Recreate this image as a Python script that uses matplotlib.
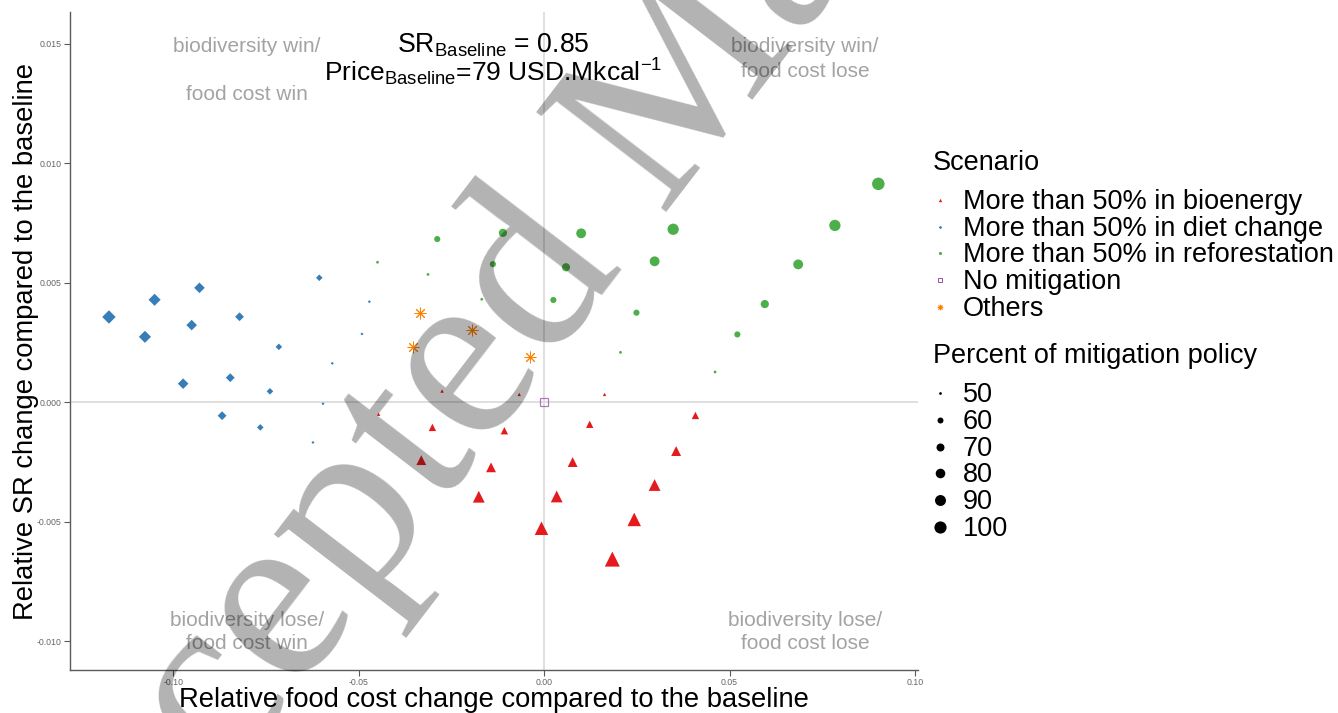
import matplotlib
matplotlib.use("Agg")
import matplotlib.pyplot as plt
import numpy as np

plt.rcParams['font.family'] = ['Liberation Sans', 'DejaVu Sans']
plt.rcParams['mathtext.fontset'] = 'custom'
plt.rcParams['mathtext.rm'] = 'Liberation Sans'
plt.rcParams['mathtext.it'] = 'Liberation Sans:italic'
plt.rcParams['mathtext.bf'] = 'Liberation Sans:bold'

# ---------------- data ----------------
bio_x = [-0.0446, -0.0275, -0.0067, 0.0163, -0.0301, -0.0107, 0.0123, 0.0408,
         -0.0331, -0.0143, 0.0077, 0.0356, -0.0176, 0.0034, 0.0298, -0.0007, 0.0243, 0.0184]
bio_y = [-0.00051, 0.00046, 0.00032, 0.00032, -0.00106, -0.00120, -0.00093, -0.00056,
         -0.00243, -0.00273, -0.00251, -0.00205, -0.00396, -0.00395, -0.00347, -0.00528, -0.00491, -0.00657]
bio_pct = [50, 50, 50, 50, 60, 60, 60, 60, 70, 70, 70, 70, 80, 80, 80, 90, 90, 100]

diet_x = [-0.1173, -0.1050, -0.1076, -0.0929, -0.0950, -0.0973, -0.0821, -0.0846, -0.0868,
          -0.0715, -0.0739, -0.0765, -0.0606, -0.0471, -0.0491, -0.0571, -0.0596, -0.0623]
diet_y = [0.00356, 0.00428, 0.00273, 0.00478, 0.00322, 0.00077, 0.00357, 0.00102, -0.00057,
          0.00231, 0.00045, -0.00106, 0.00520, 0.00420, 0.00285, 0.00162, -0.00007, -0.00169]
diet_pct = [100, 90, 90, 80, 80, 80, 70, 70, 70, 60, 60, 60, 60, 50, 50, 50, 50, 50]

refor_x = [0.0901, 0.0784, 0.0348, 0.0685, 0.0298, 0.0100, 0.0595, 0.0059, -0.0111, 0.0521,
           0.0249, 0.0025, -0.0138, -0.0288, 0.0461, 0.0206, -0.0168, -0.0313, -0.0449]
refor_y = [0.00913, 0.00739, 0.00723, 0.00576, 0.00589, 0.00706, 0.00410, 0.00564, 0.00708, 0.00283,
           0.00374, 0.00427, 0.00577, 0.00682, 0.00126, 0.00208, 0.00430, 0.00534, 0.00585]
refor_pct = [100, 90, 90, 80, 80, 80, 70, 70, 70, 60, 60, 60, 60, 60, 50, 50, 50, 50, 50]

others_x = [-0.0334, -0.0195, -0.0354, -0.0038]
others_y = [0.00374, 0.00301, 0.00231, 0.00190]

nomit_x = [0.0]
nomit_y = [0.0]

scenario_labels = ["More than 50% in bioenergy", "More than 50% in diet change",
                   "More than 50% in reforestation", "No mitigation", "Others"]
size_levels = [50, 60, 70, 80, 90, 100]

x_ticks = [-0.10, -0.05, 0.00, 0.05, 0.10]
x_ticklabels = ["-0.10", "-0.05", "0.00", "0.05", "0.10"]
y_ticks = [-0.010, -0.005, 0.000, 0.005, 0.010, 0.015]
y_ticklabels = ["-0.010", "-0.005", "0.000", "0.005", "0.010", "0.015"]

# ---------------- style ----------------
RED, BLUE, GREEN, PURPLE, ORANGE = "#E41A1C", "#377EB8", "#4DAF4A", "#984EA3", "#FF7F00"
GRAYTXT = "#A3A3A3"


def area(p, factor=1.0):
    p = np.asarray(p, dtype=float)
    d_px = np.sqrt(7.8 + 2.97 * (p - 50.0))
    return (d_px * 0.72) ** 2 * factor


W, H = 1338, 713
fig = plt.figure(figsize=(W / 100, H / 100), dpi=100)
L, R, T, B = 70, 918, 12, 670
ax = fig.add_axes([L / W, (H - B) / H, (R - L) / W, (B - T) / H])
ax.set_xlim(-0.1278, 0.1008)
ax.set_ylim(-0.01121, 0.01632)

ax.axhline(0, color="#DCDCDC", lw=1.3, zorder=0)
ax.axvline(0, color="#DCDCDC", lw=1.3, zorder=0)

ax.scatter(bio_x, bio_y, s=area(bio_pct, 1.44), marker="^", color=RED, linewidths=0, zorder=3)
ax.scatter(diet_x, diet_y, s=area(diet_pct, 0.58), marker="D", color=BLUE, linewidths=0, zorder=3)
ax.scatter(refor_x, refor_y, s=area(refor_pct, 1.0), marker="o", color=GREEN, linewidths=0, zorder=3)
ax.plot(others_x, others_y, linestyle="none", marker=(8, 2, 0), markersize=8.4,
        markeredgecolor=ORANGE, markeredgewidth=0.7, zorder=3)
ax.plot(nomit_x, nomit_y, linestyle="none", marker="s", markersize=6.4,
        markerfacecolor="none", markeredgecolor=PURPLE, markeredgewidth=0.9, alpha=0.75, zorder=3)

for s in ["top", "right"]:
    ax.spines[s].set_visible(False)
for s in ["left", "bottom"]:
    ax.spines[s].set_color("#5A5A5A")
    ax.spines[s].set_linewidth(1.0)

ax.set_xticks(x_ticks)
ax.set_xticklabels(x_ticklabels)
ax.set_yticks(y_ticks)
ax.set_yticklabels(y_ticklabels)
ax.tick_params(axis="both", length=4, width=0.8, color="#5A5A5A", labelsize=6.3,
               labelcolor="#666666", pad=2)

ax.set_xlabel("Relative food cost change compared to the baseline", fontsize=19.7)
ax.set_ylabel("Relative SR change compared to the baseline", fontsize=19.7)
ax.xaxis.set_label_coords(0.5, -0.026)
ax.yaxis.set_label_coords(-0.036, 0.5)

# quadrant annotations
q_kw = dict(fontsize=15, color=GRAYTXT, ha="center", va="center")
ax.text(-0.0801, 0.01486, "biodiversity win/", **q_kw)
ax.text(-0.0801, 0.01285, "food cost win", **q_kw)
ax.text(0.0703, 0.01486, "biodiversity win/", **q_kw)
ax.text(0.0703, 0.01385, "food cost lose", **q_kw)
ax.text(-0.0801, -0.00912, "biodiversity lose/", **q_kw)
ax.text(-0.0801, -0.01012, "food cost win", **q_kw)
ax.text(0.0703, -0.00912, "biodiversity lose/", **q_kw)
ax.text(0.0703, -0.01012, "food cost lose", **q_kw)

ax.text(-0.01375, 0.01462, r"SR$_{\mathrm{Baseline}}$ = 0.85", fontsize=19.2,
        ha="center", va="baseline")
ax.text(-0.01375, 0.01343, r"Price$_{\mathrm{Baseline}}$=79 USD.Mkcal$^{-1}$", fontsize=19.0,
        ha="center", va="baseline")

# ---------------- legend (overlay in pixel coordinates) ----------------
lax = fig.add_axes([0, 0, 1, 1])
lax.set_xlim(0, W)
lax.set_ylim(H, 0)
lax.axis("off")
lax.patch.set_alpha(0)

LFS = 19.5
lax.text(933, 163, "Scenario", fontsize=LFS, ha="left", va="center")
mx, tx = 940, 963
ys = [202, 228.7, 255.3, 282, 308.7]
lax.scatter([mx], [ys[0] - 2], s=6, marker="^", color=RED, linewidths=0)
lax.scatter([mx], [ys[1] - 2], s=3, marker="D", color=BLUE, linewidths=0)
lax.scatter([mx], [ys[2] - 2], s=5, marker="o", color=GREEN, linewidths=0)
lax.plot([mx], [ys[3] - 2], linestyle="none", marker="s", markersize=3.2, markerfacecolor="none",
         markeredgecolor=PURPLE, markeredgewidth=0.7)
lax.plot([mx], [ys[4] - 2], linestyle="none", marker=(8, 2, 0), markersize=3.8,
         markeredgecolor=ORANGE, markeredgewidth=0.7)
for lab, yy in zip(scenario_labels, ys):
    lax.text(tx, yy, lab, fontsize=LFS, ha="left", va="center")

lax.text(933, 356, "Percent of mitigation policy", fontsize=LFS, ha="left", va="center")
ys2 = [395.3, 422, 448.7, 475.3, 502, 528.7]
for lev, yy in zip(size_levels, ys2):
    lax.scatter([mx], [yy - 2], s=area([lev], 0.95), marker="o", color="black", linewidths=0)
    lax.text(tx, yy, str(lev), fontsize=LFS, ha="left", va="center")

# ---------------- watermark ----------------
fig.text(49.7 / W, 1 - 1015.9 / H, "Accepted Manuscript", fontsize=180,
         family=["Liberation Serif", "DejaVu Serif"], color="black", alpha=0.3,
         rotation=52.5, rotation_mode="anchor", ha="left", va="baseline", zorder=10)

fig.savefig("out.png", dpi=100)
